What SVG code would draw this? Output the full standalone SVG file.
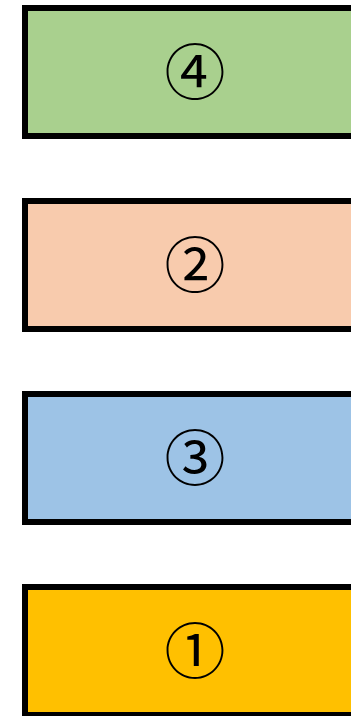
<svg xmlns="http://www.w3.org/2000/svg" width="351" height="716" viewBox="0 0 351 716">
<style>
.box{stroke:#000;stroke-width:6}
.lbl{font-family:"Noto Sans CJK JP","Noto Sans CJK SC",sans-serif;font-size:61px;text-anchor:middle;dominant-baseline:central;fill:#000}
</style>
<rect width="351" height="716" fill="#fff"/>
<g id="node4"><rect class="box" x="25" y="8" width="336" height="128" fill="#A9D08E"/><text class="lbl" x="195" y="68">④</text></g>
<g id="node2"><rect class="box" x="25" y="201" width="336" height="128" fill="#F8CBAD"/><text class="lbl" x="195" y="261">②</text></g>
<g id="node3"><rect class="box" x="25" y="394" width="336" height="128" fill="#9DC3E6"/><text class="lbl" x="195" y="454">③</text></g>
<g id="node1"><rect class="box" x="25" y="587" width="336" height="128" fill="#FFC000"/><text class="lbl" x="195" y="647">①</text></g>
<g id="connectors"/>
</svg>
